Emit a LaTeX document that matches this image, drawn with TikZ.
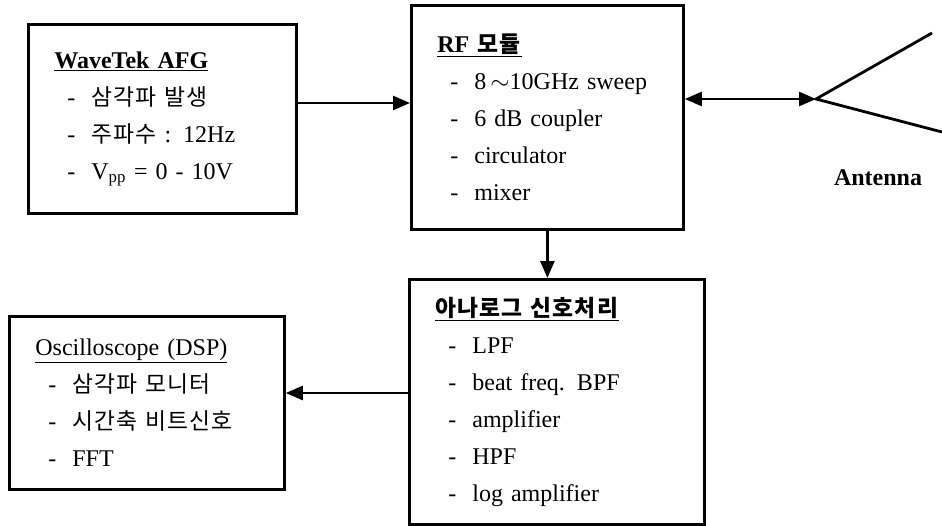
\documentclass[tikz,border=0pt]{standalone}
\usepackage{fontspec}
\setmainfont{Liberation Serif}[WordSpace=1.5]
\newfontfamily\krfont[Scale=0.95,LetterSpace=5]{Noto Sans CJK KR}
\usepackage{tikz}
\usetikzlibrary{arrows.meta}

\newcommand{\ko}[1]{{\krfont #1}}
\newcommand{\entry}[1]{\hspace*{13pt}-\ \ #1}

\tikzset{
    block/.style = {draw, line width=2.8pt, align=left, anchor=north west,
        inner xsep=26pt, inner ysep=0pt, font=\fontsize{24}{37}\selectfont},
    link/.style = {line width=2.6pt, -{Triangle[length=17pt,width=14pt]}},
}

\begin{document}
\begin{tikzpicture}[x=1pt, y=-1pt]
    \useasboundingbox (0,0) rectangle (942,525);

    \node[block, text width=216pt, minimum height=189pt] (afg) at (27,23)
        {\underline{\textbf{WaveTek AFG}}\\
         \entry{\ko{삼각파 발생}}\\
         \entry{\ko{주파수} : 12Hz}\\
         \entry{V\textsubscript{pp} = 0 - 10V}};

    \node[block, text width=220pt, minimum height=224pt] (rf) at (410,4)
        {\underline{\textbf{RF \ko{모듈}}}\\
         \entry{8\,$\sim$10GHz sweep}\\
         \entry{6 dB coupler}\\
         \entry{circulator}\\
         \entry{mixer}};

    \node[block, text width=243pt, minimum height=245pt] (analog) at (408,278)
        {\underline{\textbf{\ko{아나로그 신호처리}}}\\
         \entry{LPF}\\
         \entry{beat freq. BPF}\\
         \entry{amplifier}\\
         \entry{HPF}\\
         \entry{log amplifier}};

    \node[block, text width=223pt, minimum height=173pt] (osc) at (8,315)
        {\underline{Oscilloscope (DSP)}\\
         \entry{\ko{삼각파 모니터}}\\
         \entry{\ko{시간축 비트신호}}\\
         \entry{FFT}};

    % antenna
    \coordinate (feed) at (816,99);
    \coordinate (upper) at (932,33);
    \coordinate (lower) at (942,132);
    \draw[line width=2.8pt] (upper) -- (feed) -- (lower);
    \node[font=\fontsize{24}{28}\selectfont\bfseries] (antlabel) at (878,178) {Antenna};

    \draw[link] (afg.east |- 0,103) -- (rf.west |- 0,103);
    \draw[link, {Triangle[length=17pt,width=14pt]}-{Triangle[length=17pt,width=14pt]}]
        (rf.east |- feed) -- (feed);
    \draw[link] (rf.south) -- (rf.south |- analog.north);
    \draw[link] (analog.west |- 0,393) -- (osc.east |- 0,393);
\end{tikzpicture}
\end{document}
